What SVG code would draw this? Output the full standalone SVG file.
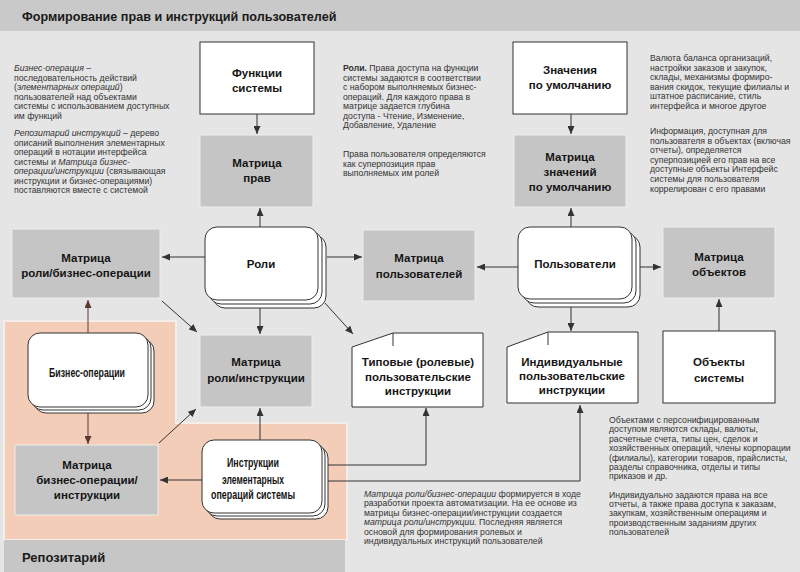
<svg xmlns="http://www.w3.org/2000/svg" width="800" height="572" viewBox="0 0 800 572">
<defs>
<style>
.t{font-family:"Liberation Sans",Arial,sans-serif;font-size:8.7px;fill:#333}
.i{font-style:italic}
.b{font-weight:bold}
.n{font-family:"Liberation Sans",Arial,sans-serif;font-size:11.5px;font-weight:bold;fill:#151515;text-anchor:middle}
.nc{font-size:12.5px}
.gray{fill:#c5c5c5;stroke:#ededed;stroke-width:1}
.white{fill:#fff;stroke:#333;stroke-width:1}
.c{stroke:#333;stroke-width:1;fill:none;marker-end:url(#a)}
.cb{stroke:#5a3a30;stroke-width:1;fill:none;marker-end:url(#ab)}
</style>
<marker id="a" markerUnits="userSpaceOnUse" markerWidth="8" markerHeight="7" refX="8" refY="3.5" orient="auto"><path d="M0,0 L8,3.5 L0,7 Z" fill="#333"/></marker>
<marker id="ab" markerUnits="userSpaceOnUse" markerWidth="8" markerHeight="7" refX="8" refY="3.5" orient="auto"><path d="M0,0 L8,3.5 L0,7 Z" fill="#5a3a30"/></marker>
</defs>
<rect x="0" y="0" width="800" height="572" fill="#e5e5e5"/>
<rect x="0" y="0" width="800" height="31" fill="#c9c9c9"/>
<text x="22" y="21" style="font-family:'Liberation Sans',Arial,sans-serif;font-size:12.6px;font-weight:bold;fill:#1a1a1a">Формирование прав и инструкций пользователей</text>

<g id="repository">
<path d="M4,321 L176,321 L176,423 L347,423 L347,540 L4,540 Z" fill="#f3cdb8" stroke="#f4eeea" stroke-width="2"/>
<rect x="4" y="540" width="341" height="32" fill="#c6c6c6"/>
<text x="22" y="562" style="font-family:'Liberation Sans',Arial,sans-serif;font-size:13px;font-weight:bold;fill:#1a1a1a">Репозитарий</text>
</g>

<g id="connectors">
<path class="c" d="M257,114 L257,134"/>
<path class="c" d="M260,227 L260,208"/>
<path class="c" d="M327,257 L362,257"/>
<path class="c" d="M518,267 L477,267"/>
<path class="c" d="M205,257 L162,257"/>
<path class="c" d="M260,308 L260,334"/>
<path class="c" d="M325,303 L353,334"/>
<path class="c" d="M162,301 L197,332"/>
<path class="cb" d="M88,333 L88,300"/>
<path class="cb" d="M88,412 L88,444"/>
<path class="c" d="M159,443 L196,409"/>
<path class="c" d="M202,480 L160,480"/>
<path class="c" d="M260,440 L260,408"/>
<path class="c" d="M327,465 L426,465 L426,408"/>
<path class="c" d="M327,481 L580,481 L580,405"/>
<path class="c" d="M571,114 L571,134"/>
<path class="c" d="M571,227 L571,208"/>
<path class="c" d="M571,307 L571,331"/>
<path class="c" d="M640,267 L661,267"/>
<path class="c" d="M719,331 L719,299"/>
</g>

<g id="functions"><rect class="white" x="200" y="42" width="114" height="72"/><text class="n" x="257" y="77">Функции</text><text class="n" x="257" y="92">системы</text></g>
<g id="rights-matrix"><rect class="gray" x="200" y="135" width="113" height="72"/><text class="n" x="257" y="167">Матрица</text><text class="n" x="257" y="182">прав</text></g>
<g id="roles"><rect class="white" x="213" y="235" width="113" height="73" rx="12"/><rect class="white" x="209" y="231" width="113" height="73" rx="12"/><rect class="white" x="205" y="227" width="113" height="73" rx="12"/><text class="n" x="261" y="268">Роли</text></g>
<g id="users-matrix"><rect class="gray" x="363" y="230" width="112" height="71"/><text class="n" x="419" y="262">Матрица</text><text class="n" x="419" y="278">пользователей</text></g>
<g id="role-instr-matrix"><rect class="gray" x="200" y="335" width="112" height="72"/><text class="n" x="256" y="366">Матрица</text><text class="n" x="256" y="382">роли/инструкции</text></g>
<g id="typical-instr"><path class="white" d="M352,347 L393,333 L483,333 L483,407 L352,407 Z"/><path d="M393,333 L393,346" stroke="#333" stroke-width="1"/><text class="n" x="418" y="366">Типовые (ролевые)</text><text class="n" x="418" y="381">пользовательские</text><text class="n" x="418" y="395">инструкции</text></g>
<g id="role-bo-matrix"><rect class="gray" x="12" y="229" width="148" height="69"/><text class="n" x="86" y="262">Матрица</text><text class="n" x="86" y="277">роли/бизнес-операции</text></g>
<g id="business-ops"><rect class="white" x="34" y="339" width="120" height="74" rx="12"/><rect class="white" x="31" y="336" width="120" height="74" rx="12"/><rect class="white" x="28" y="333" width="120" height="74" rx="12"/><text class="n nc" x="87" y="377" textLength="76" lengthAdjust="spacingAndGlyphs">Бизнес-операции</text></g>
<g id="bo-instr-matrix"><rect class="gray" x="15" y="445" width="143" height="70"/><text class="n" x="87" y="469">Матрица</text><text class="n" x="87" y="484">бизнес-операции/</text><text class="n" x="87" y="499">инструкции</text></g>
<g id="elem-instr"><rect class="white" x="208" y="446" width="120" height="73" rx="12"/><rect class="white" x="205" y="443" width="120" height="73" rx="12"/><rect class="white" x="202" y="440" width="120" height="73" rx="12"/><text class="n nc" x="253" y="467" textLength="52" lengthAdjust="spacingAndGlyphs">Инструкции</text><text class="n nc" x="253" y="484" textLength="62" lengthAdjust="spacingAndGlyphs">элементарных</text><text class="n nc" x="253" y="499" textLength="84" lengthAdjust="spacingAndGlyphs">операций системы</text></g>
<g id="defaults"><rect class="white" x="513" y="42" width="114" height="72"/><text class="n" x="570" y="74">Значения</text><text class="n" x="570" y="89">по умолчанию</text></g>
<g id="defaults-matrix"><rect class="gray" x="514" y="135" width="112" height="72"/><text class="n" x="570" y="161">Матрица</text><text class="n" x="570" y="176">значений</text><text class="n" x="570" y="191">по умолчанию</text></g>
<g id="users"><rect class="white" x="526" y="235" width="114" height="72" rx="12"/><rect class="white" x="522" y="231" width="114" height="72" rx="12"/><rect class="white" x="518" y="227" width="114" height="72" rx="12"/><text class="n" x="575" y="268">Пользователи</text></g>
<g id="objects-matrix"><rect class="gray" x="663" y="227" width="112" height="71"/><text class="n" x="719" y="261">Матрица</text><text class="n" x="719" y="276">объектов</text></g>
<g id="system-objects"><rect class="white" x="663" y="331" width="112" height="72"/><text class="n" x="719" y="366">Объекты</text><text class="n" x="719" y="382">системы</text></g>
<g id="individual-instr"><path class="white" d="M507,347 L548,332 L638,332 L638,403 L507,403 Z"/><path d="M548,332 L548,345" stroke="#333" stroke-width="1"/><text class="n" x="572" y="366">Индивидуальные</text><text class="n" x="572" y="380">пользовательские</text><text class="n" x="572" y="394">инструкции</text></g>

<g id="notes">
<text class="t" x="14" y="71"><tspan class="i">Бизнес-операция</tspan> –</text>
<text class="t" x="14" y="80.5">последовательность действий</text>
<text class="t" x="14" y="90">(<tspan class="i">элементарных операций</tspan>)</text>
<text class="t" x="14" y="99.5">пользователей над объектами</text>
<text class="t" x="14" y="109">системы с использованием доступных</text>
<text class="t" x="14" y="118.5">им функций</text>
<text class="t" x="14" y="136"><tspan class="i">Репозитарий инструкций</tspan> – дерево</text>
<text class="t" x="14" y="145.5">описаний выполнения элементарных</text>
<text class="t" x="14" y="155">операций в нотации интерфейса</text>
<text class="t" x="14" y="164.5">системы и <tspan class="i">Матрица бизнес-</tspan></text>
<text class="t" x="14" y="174"><tspan class="i">операции/инструкции</tspan> (связывающая</text>
<text class="t" x="14" y="183.5">инструкции и бизнес-операциями)</text>
<text class="t" x="14" y="193">поставляются вместе с системой</text>

<text class="t" x="343" y="71"><tspan class="b">Роли.</tspan> Права доступа на функции</text>
<text class="t" x="343" y="80.5">системы задаются в соответствии</text>
<text class="t" x="343" y="90">с набором выполняемых бизнес-</text>
<text class="t" x="343" y="99.5">операций. Для каждого права в</text>
<text class="t" x="343" y="109">матрице задается глубина</text>
<text class="t" x="343" y="118.5">доступа - Чтение, Изменение,</text>
<text class="t" x="343" y="128">Добавление, Удаление</text>
<text class="t" x="343" y="157">Права пользователя определяются</text>
<text class="t" x="343" y="166.5">как суперпозиция прав</text>
<text class="t" x="343" y="176">выполняемых им ролей</text>

<text class="t" x="650" y="61">Валюта баланса организаций,</text>
<text class="t" x="650" y="70.6">настройки заказов и закупок,</text>
<text class="t" x="650" y="80.2">склады, механизмы формиро-</text>
<text class="t" x="650" y="89.8">вания скидок, текущие филиалы  и</text>
<text class="t" x="650" y="99.4">штатное расписание, стиль</text>
<text class="t" x="650" y="109">интерфейса и многое другое</text>
<text class="t" x="650" y="134">Информация, доступная для</text>
<text class="t" x="650" y="143.6">пользователя в объектах (включая</text>
<text class="t" x="650" y="153.2">отчеты), определяется</text>
<text class="t" x="650" y="162.8">суперпозицией его прав на все</text>
<text class="t" x="650" y="172.4">доступные объекты Интерфейс</text>
<text class="t" x="650" y="182">системы для пользователя</text>
<text class="t" x="650" y="191.6">коррелирован с его правами</text>

<text class="t" x="609" y="423">Объектами с персонифицированным</text>
<text class="t" x="609" y="432.4">доступом являются склады, валюты,</text>
<text class="t" x="609" y="441.8">расчетные счета, типы цен, сделок и</text>
<text class="t" x="609" y="451.2">хозяйственных операций, члены корпорации</text>
<text class="t" x="609" y="460.6">(филиалы), категории товаров, прайслисты,</text>
<text class="t" x="609" y="470">разделы справочника, отделы и типы</text>
<text class="t" x="609" y="479.4">приказов и др.</text>
<text class="t" x="609" y="497.5">Индивидуально задаются права на все</text>
<text class="t" x="609" y="506.9">отчеты, а также права доступа к заказам,</text>
<text class="t" x="609" y="516.3">закупкам, хозяйственным операциям и</text>
<text class="t" x="609" y="525.7">производственным заданиям других</text>
<text class="t" x="609" y="535.1">пользователей</text>

<text class="t" x="364" y="497"><tspan class="i">Матрица роли/бизнес-операции</tspan> формируется в ходе</text>
<text class="t" x="364" y="506.4">разработки проекта автоматизации. На ее основе из</text>
<text class="t" x="364" y="515.8">матрицы бизнес-операции/инструкции создается</text>
<text class="t" x="364" y="525.2"><tspan class="i">матрица роли/инструкции.</tspan> Последняя является</text>
<text class="t" x="364" y="534.6">основой для формирования ролевых и</text>
<text class="t" x="364" y="544">индивидуальных инструкций пользователей</text>
</g>
</svg>
